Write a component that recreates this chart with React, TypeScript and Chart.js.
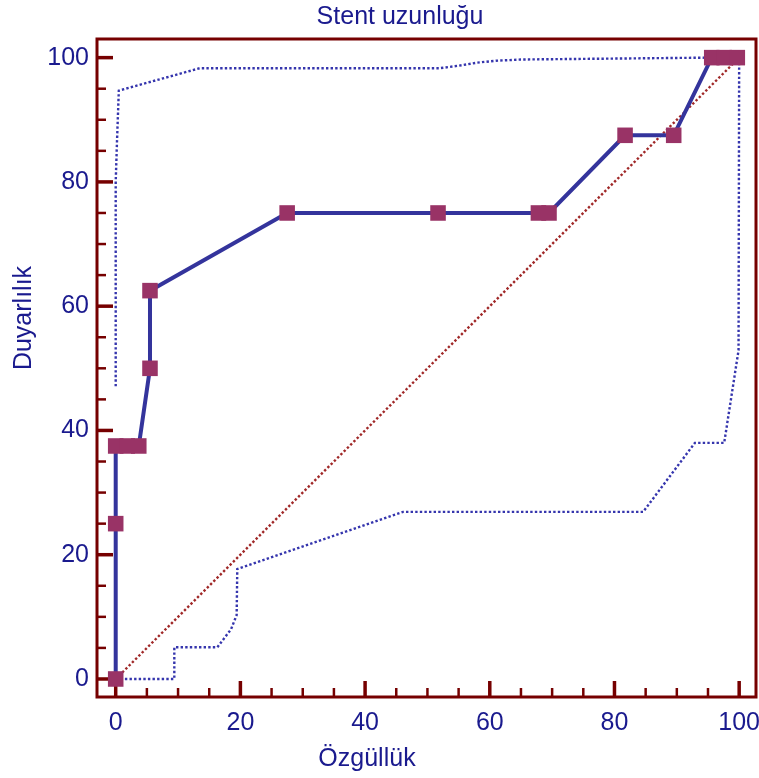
import React, { useEffect, useRef } from "react";
import { Chart, registerables } from "chart.js";

Chart.register(...registerables);

const TITLE = "Stent uzunluğu";
const X_TITLE = "Özgüllük";
const Y_TITLE = "Duyarlılık";

const MAJOR_TICKS = [0, 20, 40, 60, 80, 100];
const MINOR_TICKS = [5, 10, 15, 25, 30, 35, 45, 50, 55, 65, 70, 75, 85, 90, 95];

// ROC curve
const rocX = [0, 0, 0, 1.85, 3.7, 5.5, 5.5, 27.5, 51.7, 67.8, 69.5, 81.7, 89.5, 95.6, 97.6, 99.7];
const rocY = [0, 25, 37.5, 37.5, 37.5, 50, 62.5, 75, 75, 75, 75, 87.5, 87.5, 100, 100, 100];

// Upper confidence bound
const upX = [0, 0, 0.2, 0.5, 13.5, 52, 55, 58, 61, 65, 85, 95, 100];
const upY = [47.1, 80, 86.3, 94.7, 98.3, 98.3, 98.7, 99.2, 99.5, 99.7, 99.9, 100, 100];

// Lower confidence bound
const loX = [0, 9.4, 9.4, 16.3, 18.5, 19.4, 19.5, 46.1, 84.6, 92.9, 97.6, 99.9, 100];
const loY = [0, 0, 5.1, 5.1, 8, 10.3, 17.7, 26.9, 26.9, 38, 38, 52.9, 100];

// Reference diagonal
const diagX = [0, 100];
const diagY = [0, 100];

const TEXT = "#1a1a8e";
const FRAME = "#760000";
const FONT = '"Liberation Sans", Arial, sans-serif';

const toPts = (xs: number[], ys: number[]) => xs.map((x, i) => ({ x, y: ys[i] }));

const framePlugin = {
  id: "frameTicks",
  beforeDatasetsDraw(chart: any) {
    const { ctx, chartArea: a, scales } = chart;
    const sx = scales.x;
    const sy = scales.y;
    ctx.save();
    ctx.strokeStyle = FRAME;
    ctx.lineCap = "butt";
    const drawTicks = (vals: number[], len: number, w: number) => {
      ctx.lineWidth = w;
      for (const v of vals) {
        const px = sx.getPixelForValue(v);
        ctx.beginPath();
        ctx.moveTo(px, a.bottom);
        ctx.lineTo(px, a.bottom - len);
        ctx.stroke();
        const py = sy.getPixelForValue(v);
        ctx.beginPath();
        ctx.moveTo(a.left, py);
        ctx.lineTo(a.left + len, py);
        ctx.stroke();
      }
    };
    drawTicks(MINOR_TICKS, 9, 2.5);
    drawTicks(MAJOR_TICKS, 16, 3.5);
    ctx.lineWidth = 3;
    ctx.strokeRect(a.left, a.top, a.right - a.left, a.bottom - a.top);

    // x tick labels
    ctx.fillStyle = TEXT;
    ctx.font = `25px ${FONT}`;
    ctx.textAlign = "center";
    ctx.textBaseline = "alphabetic";
    for (const v of MAJOR_TICKS) {
      ctx.fillText(String(v), sx.getPixelForValue(v), a.bottom + 33);
    }
    ctx.restore();
  },
  afterDraw(chart: any) {
    const { ctx } = chart;
    ctx.save();
    ctx.fillStyle = TEXT;
    ctx.font = `25px ${FONT}`;
    ctx.textAlign = "center";
    ctx.textBaseline = "alphabetic";
    ctx.fillText(TITLE, 400, 24);
    ctx.fillText(X_TITLE, 367, 766);
    ctx.translate(31, 318);
    ctx.rotate(-Math.PI / 2);
    ctx.fillText(Y_TITLE, 0, 0);
    ctx.restore();
  },
};

export default function App() {
  const ref = useRef<HTMLCanvasElement | null>(null);

  useEffect(() => {
    if (!ref.current) return;
    const dotted = { borderWidth: 2.4, borderDash: [2.4, 2.2], pointRadius: 0, fill: false, tension: 0 };
    const chart = new Chart(ref.current, {
      type: "line",
      data: {
        datasets: [
          {
            data: toPts(rocX, rocY),
            borderColor: "#34349c",
            borderWidth: 4,
            pointStyle: "rect",
            pointRadius: 11,
            pointBackgroundColor: "#993366",
            pointBorderColor: "#993366",
            pointBorderWidth: 0,
            fill: false,
            clip: false,
            order: 0,
          } as any,
          { data: toPts(diagX, diagY), borderColor: "#a02828", order: 1, ...dotted },
          { data: toPts(upX, upY), borderColor: "#3535ad", order: 2, ...dotted },
          { data: toPts(loX, loY), borderColor: "#3535ad", order: 3, ...dotted },
        ],
      },
      options: {
        animation: false,
        responsive: false,
        layout: { autoPadding: false, padding: { top: 39, right: 3, left: 0, bottom: 0 } },
        plugins: { legend: { display: false }, tooltip: { enabled: false }, title: { display: false } },
        scales: {
          x: {
            type: "linear",
            min: -3,
            max: 102.7,
            afterFit: (s: any) => {
              s.height = 81;
              s.paddingLeft = 0;
              s.paddingRight = 0;
            },
            afterBuildTicks: (s: any) => {
              s.ticks = MAJOR_TICKS.map((v) => ({ value: v }));
            },
            grid: { display: false, drawTicks: false },
            border: { display: false },
            ticks: { display: false },
          },
          y: {
            type: "linear",
            min: -2.9,
            max: 103,
            afterFit: (s: any) => {
              s.width = 97;
              s.paddingTop = 0;
              s.paddingBottom = 0;
            },
            afterBuildTicks: (s: any) => {
              s.ticks = MAJOR_TICKS.map((v) => ({ value: v }));
            },
            grid: { display: false, drawTicks: false },
            border: { display: false },
            ticks: { color: TEXT, font: { size: 25, family: FONT }, padding: 8 },
          },
        },
      },
      plugins: [framePlugin],
    });
    return () => chart.destroy();
  }, []);

  return (
    <div style={{ position: "fixed", left: 0, top: 0, width: 759, height: 778, background: "#fff" }}>
      <canvas ref={ref} width={759} height={778} />
    </div>
  );
}
